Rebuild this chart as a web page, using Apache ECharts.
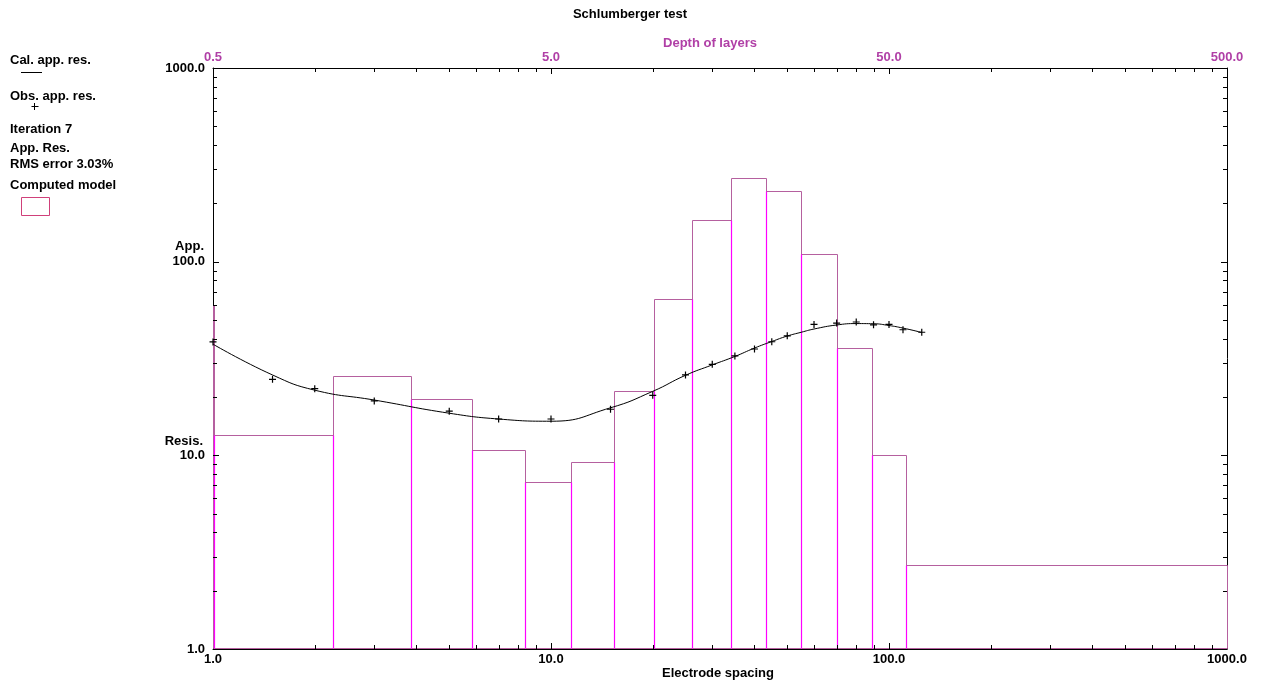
<!DOCTYPE html>
<html><head><meta charset="utf-8">
<script src="https://cdn.jsdelivr.net/npm/echarts@6/dist/echarts.min.js"></script>
<style>html,body{margin:0;padding:0;background:#fff}#c{width:1266px;height:685px}</style>
</head><body><div id="c"></div>
<script>
// Observed apparent resistivity (electrode spacing, ohm-m)
const spacingObs = [1, 1.5, 2, 3, 5, 7, 10, 15, 20, 25, 30, 35, 40, 45, 50, 60, 70, 80, 90, 100, 110, 125];
const resObs = [38.5, 24.7, 22.1, 19.1, 16.9, 15.4, 15.4, 17.3, 20.4, 26.0, 29.5, 32.6, 35.4, 38.6, 41.4, 47.4, 48.2, 48.8, 47.2, 47.4, 44.5, 43.2];
// Calculated apparent resistivity curve
const spacingCal = [1, 1.5, 2, 3, 5, 7, 10, 15, 20, 25, 30, 35, 40, 45, 50, 55, 60, 70, 80, 90, 100, 110, 125];
const resCal = [37.5, 26.0, 21.7, 19.3, 16.5, 15.4, 15.0, 17.6, 21.4, 25.9, 29.3, 32.4, 35.8, 38.7, 41.3, 43.2, 44.9, 47.1, 47.9, 47.8, 46.8, 45.4, 43.1];
// Computed model layers (depth top, depth bottom, resistivity)
const layerTop = [0.5, 0.505, 1.13, 1.93, 2.92, 4.19, 5.73, 7.68, 10.08, 13.07, 17.04, 21.6, 27.4, 35.1, 44.6, 56.2];
const layerBottom = [0.505, 1.13, 1.93, 2.92, 4.19, 5.73, 7.68, 10.08, 13.07, 17.04, 21.6, 27.4, 35.1, 44.6, 56.2, 500];
const layerRes = [60, 12.78, 25.8, 19.5, 10.65, 7.31, 9.27, 21.5, 63.9, 164, 271, 232, 109.5, 35.7, 10.0, 2.71];
// Tick values
const depthTickLabels = [0.5, 5, 50, 500];
const majorInnerTicks = [10, 100];
const minorTicks = [2, 3, 4, 5, 6, 7, 8, 9, 20, 30, 40, 50, 60, 70, 80, 90, 200, 300, 400, 500, 600, 700, 800, 900];

const FONT = '"Liberation Sans", Arial, sans-serif';
const DULL = '#b5609f';
const BRIGHT = '#ff00ff';
const PURPLE = '#b03fa6';

const layerData = layerTop.map((t, i) => [t, layerBottom[i], layerRes[i], i > 0 ? layerRes[i - 1] : 0]);
const tickData = [];
minorTicks.forEach(v => { tickData.push([v, 1, 0, 4]); tickData.push([1, v, 1, 4]); });
majorInnerTicks.forEach(v => { tickData.push([v, 1, 0, 6]); tickData.push([1, v, 1, 6]); });
const topLabelData = depthTickLabels.map(v => [v, 1000]);

const px = v => Math.round(v) + 0.5;

const chart = echarts.init(document.getElementById('c'), null, {renderer: 'canvas'});
const txt = (text, x, y, extra) => ({
  type: 'text', style: Object.assign({text, x, y, font: 'bold 13px ' + FONT, fill: '#000', textVerticalAlign: 'middle'}, extra || {})
});
const seg = (x1, y1, x2, y2, c) => ({type: 'line', shape: {x1, y1, x2, y2}, style: {stroke: c, lineWidth: 1}});

chart.setOption({
  animation: false,
  backgroundColor: '#fff',
  grid: {left: 213, right: 39, top: 68, bottom: 36, containLabel: false},
  xAxis: [
    {
      type: 'log', logBase: 10, min: 1, max: 1000, position: 'bottom',
      axisLine: {show: true, lineStyle: {color: '#000', width: 1}},
      axisTick: {show: false}, splitLine: {show: false}, minorTick: {show: false},
      axisLabel: {show: true, margin: 4, color: '#000', fontFamily: FONT, fontWeight: 'bold', fontSize: 13,
        formatter: v => Number(v).toFixed(1), showMinLabel: true, showMaxLabel: true}
    },
    {
      type: 'log', logBase: 10, min: 0.5, max: 500, position: 'top',
      axisLine: {show: true, lineStyle: {color: '#000', width: 1}},
      axisTick: {show: false}, splitLine: {show: false}, axisLabel: {show: false}
    }
  ],
  yAxis: [
    {
      type: 'log', logBase: 10, min: 1, max: 1000, position: 'left',
      axisLine: {show: true, lineStyle: {color: '#000', width: 1}},
      axisTick: {show: false}, splitLine: {show: false},
      axisLabel: {show: true, margin: 8, color: '#000', fontFamily: FONT, fontWeight: 'bold', fontSize: 13,
        formatter: v => Number(v).toFixed(1), showMinLabel: true, showMaxLabel: true}
    },
    {
      type: 'log', logBase: 10, min: 1, max: 1000, position: 'right',
      axisLine: {show: true, lineStyle: {color: '#000', width: 1}},
      axisTick: {show: false}, splitLine: {show: false}, axisLabel: {show: false}
    }
  ],
  graphic: [
    txt('Schlumberger test', 630, 14, {textAlign: 'center'}),
    txt('Depth of layers', 710, 43, {textAlign: 'center', fill: PURPLE}),
    txt('Electrode spacing', 718, 673, {textAlign: 'center'}),
    txt('App.', 204, 246, {textAlign: 'right'}),
    txt('Resis.', 203, 441, {textAlign: 'right'}),
    txt('Cal. app. res.', 10, 60),
    seg(21, 72.5, 42, 72.5, '#000'),
    txt('Obs. app. res.', 10, 96),
    seg(31.5, 106.5, 38.5, 106.5, '#000'),
    seg(34.5, 103, 34.5, 110, '#000'),
    txt('Iteration 7', 10, 129),
    txt('App. Res.', 10, 148),
    txt('RMS error 3.03%', 10, 164),
    txt('Computed model', 10, 185),
    seg(21.5, 197.5, 49.5, 197.5, '#d0407a'),
    seg(21.5, 215.5, 49.5, 215.5, '#d0407a'),
    seg(21.5, 197.5, 21.5, 215.5, '#d0407a'),
    seg(49.5, 197.5, 49.5, 215.5, '#d0407a')
  ],
  series: [
    {
      type: 'custom', name: 'model', xAxisIndex: 1, yAxisIndex: 0, z: 2, clip: false,
      data: layerData,
      encode: {x: [0, 1], y: 2},
      renderItem: (params, api) => {
        const t = api.value(0), b = api.value(1), r = api.value(2), prev = api.value(3);
        const p0 = api.coord([t, 1]);
        const p1 = api.coord([b, r]);
        const x0 = px(p0[0]), x1 = px(p1[0]), yb = px(p0[1]) - 1, yt = px(p1[1]);
        const children = [{
          type: 'polygon',
          shape: {points: [[x0, yb], [x0, yt], [x1, yt], [x1, yb]]},
          style: {stroke: DULL, fill: null, lineWidth: 1}
        }];
        if (prev > 0) {
          const pm = api.coord([t, Math.min(r, prev)]);
          children.push({type: 'line', shape: {x1: x0, y1: yb, x2: x0, y2: px(pm[1])},
            style: {stroke: BRIGHT, lineWidth: 1.2}});
        }
        return {type: 'group', children};
      }
    },
    {
      type: 'custom', name: 'ticks', xAxisIndex: 0, yAxisIndex: 0, z: 3, clip: false,
      data: tickData, silent: true,
      renderItem: (params, api) => {
        const xv = api.value(0), yv = api.value(1), kind = api.value(2), len = api.value(3);
        const st = {stroke: '#000', lineWidth: 1};
        if (kind === 0) {
          const pb = api.coord([xv, 1]), pt = api.coord([xv, 1000]);
          const x = px(pb[0]);
          return {type: 'group', children: [
            {type: 'line', shape: {x1: x, y1: pb[1], x2: x, y2: pb[1] - len}, style: st},
            {type: 'line', shape: {x1: x, y1: pt[1], x2: x, y2: pt[1] + len}, style: st}
          ]};
        }
        const pl = api.coord([1, yv]), pr = api.coord([1000, yv]);
        const y = px(pl[1]);
        return {type: 'group', children: [
          {type: 'line', shape: {x1: pl[0], y1: y, x2: pl[0] + len, y2: y}, style: st},
          {type: 'line', shape: {x1: pr[0], y1: y, x2: pr[0] - len, y2: y}, style: st}
        ]};
      }
    },
    {
      type: 'custom', name: 'depthLabels', xAxisIndex: 1, yAxisIndex: 0, z: 3, clip: false,
      data: topLabelData, silent: true,
      renderItem: (params, api) => {
        const v = api.value(0);
        const p = api.coord([v, 1000]);
        return {type: 'text', style: {text: v.toFixed(1), x: p[0], y: p[1] - 11,
          textAlign: 'center', textVerticalAlign: 'middle', font: 'bold 13px ' + FONT, fill: PURPLE}};
      }
    },
    {
      type: 'line', name: 'Cal. app. res.', xAxisIndex: 0, yAxisIndex: 0, z: 4,
      data: spacingCal.map((s, i) => [s, resCal[i]]),
      smooth: 0.5, showSymbol: false, symbol: 'none',
      lineStyle: {color: '#000', width: 1}
    },
    {
      type: 'scatter', name: 'Obs. app. res.', xAxisIndex: 0, yAxisIndex: 0, z: 5,
      data: spacingObs.map((s, i) => [s, resObs[i]]),
      symbol: 'path://M0,5L10,5M5,0L5,10', symbolSize: 7,
      itemStyle: {color: 'rgba(0,0,0,0)', borderColor: '#000', borderWidth: 1.2, opacity: 1}
    }
  ]
});
</script>
</body></html>
